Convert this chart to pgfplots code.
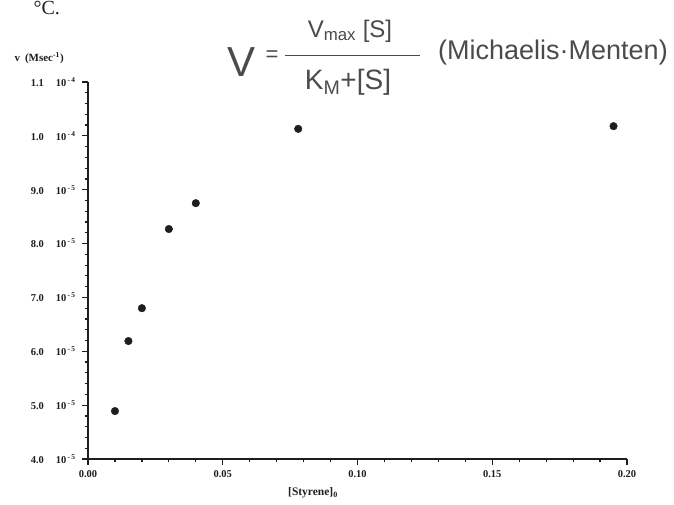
\documentclass[border=0pt]{standalone}
\usepackage{fontspec}
\setmainfont{Liberation Serif}
\newfontfamily\handfont{Liberation Sans}
\usepackage{pgfplots}
\pgfplotsset{compat=1.18}
\definecolor{ink}{RGB}{30,30,30}
\definecolor{pen}{RGB}{75,75,75}
\newcommand{\yl}[2]{#1\hspace{12pt}10\textsuperscript{\,-\,#2}}
\begin{document}
\begin{tikzpicture}[x=1pt,y=1pt]
\useasboundingbox (0,0) rectangle (674,505);
\begin{axis}[
  at={(88pt,46pt)}, anchor=south west,
  scale only axis, width=539pt, height=377pt,
  xmin=0, xmax=0.2, ymin=4e-5, ymax=1.1e-4,
  scaled y ticks=false, scaled x ticks=false,
  axis lines=left, axis line style={-, line width=1.6pt, ink},
  tick align=outside, tick style={ink, line width=1.2pt},
  major tick length=6pt, minor tick length=3.5pt,
  minor x tick num=4, minor y tick num=4,
  xtick={0,0.05,0.1,0.15,0.2},
  xticklabels={0.00,0.05,0.10,0.15,0.20},
  ytick={4e-5,5e-5,6e-5,7e-5,8e-5,9e-5,1e-4,1.1e-4},
  yticklabels={\yl{4.0}{5},\yl{5.0}{5},\yl{6.0}{5},\yl{7.0}{5},\yl{8.0}{5},\yl{9.0}{5},\yl{1.0}{4},\yl{1.1}{4}},
  ticklabel style={font=\bfseries\fontsize{10.5}{10.5}\selectfont, text=ink},
  yticklabel style={anchor=east, xshift=-3pt},
  xticklabel style={anchor=north, yshift=-2pt},
  clip=false,
]
\addplot[only marks, mark=*, mark size=3.8pt, color=ink] coordinates {
  (0.010, 4.89e-5)
  (0.015, 6.19e-5)
  (0.020, 6.80e-5)
  (0.030, 8.27e-5)
  (0.040, 8.75e-5)
  (0.078, 1.013e-4)
  (0.195, 1.018e-4)
};
\end{axis}
% axis labels
\node[font=\bfseries\fontsize{11.5}{11.5}\selectfont, text=ink] at (313,12) {[Styrene]\textsubscript{0}};
\node[font=\bfseries\fontsize{11}{11}\selectfont, text=ink, anchor=west] at (11,447) {v\hspace{5pt}(Msec\textsuperscript{-1})};
\node[font=\fontsize{20}{20}\selectfont, text=ink, anchor=west] at (30,497) {°C.};
% handwritten formula
\node[font=\handfont\fontsize{42}{42}\selectfont, text=pen] at (242,443) {V};
\node[font=\handfont\fontsize{22}{22}\selectfont, text=pen] at (272,449) {=};
\node[font=\handfont\fontsize{24}{24}\selectfont, text=pen] at (350,474) {V\textsubscript{max} [S]};
\draw[pen, line width=1pt] (285,449) -- (420,449);
\node[font=\handfont\fontsize{28}{28}\selectfont, text=pen] at (348,423) {K\textsubscript{M}+[S]};
\node[font=\handfont\fontsize{27}{27}\selectfont, text=pen] at (553,452) {(Michaelis·Menten)};
\end{tikzpicture}
\end{document}
